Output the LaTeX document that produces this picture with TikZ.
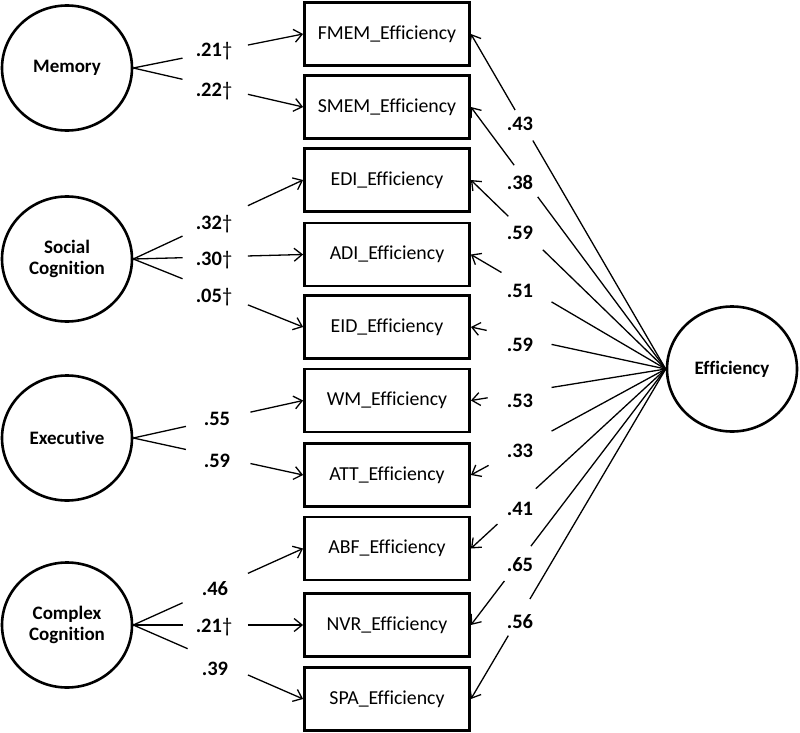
\documentclass[tikz,border=0pt]{standalone}
\usepackage{fontspec}
\setmainfont{Carlito}[Ligatures={NoCommon}]
\usetikzlibrary{shapes.geometric,calc,arrows.meta}
\newcommand\sdag{{\mdseries †}}
\newcommand\semlink[4]{%
  \draw[conn] (#1) -- ($(#1)!#3!(#2)$);
  \draw[conn,arr] ($(#1)!#4!(#2)$) -- (#2);}
\begin{document}
\begin{tikzpicture}[x=1pt,y=-1pt,
 lat/.style={draw,ellipse,line width=2.6pt,minimum width=130pt,minimum height=125pt,inner sep=0pt,align=center,font=\fontsize{19}{21.5}\selectfont\bfseries},
 obs/.style={draw,rectangle,line width=2.8pt,minimum width=165pt,minimum height=63pt,inner sep=0pt,font=\fontsize{19.8}{22}\selectfont},
 conn/.style={line width=1.3pt},
 arr/.style={-{Straight Barb[length=8pt,width=13pt]}},
 lbl/.style={font=\fontsize{20.5}{22}\selectfont\bfseries,inner sep=0pt,anchor=base}]
\useasboundingbox (0,0) rectangle (800,733);
% observed boxes
\node[obs] (fmem) at (387,34) {FMEM\_Efficiency};
\node[obs] (smem) at (387,107) {SMEM\_Efficiency};
\node[obs] (edi) at (387,180) {EDI\_Efficiency};
\node[obs] (adi) at (387,254.5) {ADI\_Efficiency};
\node[obs] (eid) at (387,327) {EID\_Efficiency};
\node[obs] (wm) at (387,400.5) {WM\_Efficiency};
\node[obs] (att) at (387,475) {ATT\_Efficiency};
\node[obs] (abf) at (387,548.5) {ABF\_Efficiency};
\node[obs] (nvr) at (387,625) {NVR\_Efficiency};
\node[obs] (spa) at (387,699) {SPA\_Efficiency};
% latent circles
\node[lat] (mem) at (67,68) {Memory};
\node[lat] (soc) at (67,259) {Social\\Cognition};
\node[lat] (exe) at (67,438) {Executive};
\node[lat] (cpx) at (67,625) {Complex\\Cognition};
\node[lat] (eff) at (732,369) {Efficiency};
% left links
\semlink{mem.east}{fmem.west}{0.29}{0.675}
\semlink{mem.east}{smem.west}{0.29}{0.675}
\semlink{soc.east}{edi.west}{0.29}{0.675}
\semlink{soc.east}{adi.west}{0.29}{0.675}
\semlink{soc.east}{eid.west}{0.29}{0.675}
\semlink{exe.east}{wm.west}{0.31}{0.69}
\semlink{exe.east}{att.west}{0.31}{0.69}
\semlink{cpx.east}{abf.west}{0.29}{0.675}
\semlink{cpx.east}{nvr.west}{0.29}{0.675}
\semlink{cpx.east}{spa.west}{0.32}{0.675}
% right links
\semlink{eff.west}{fmem.east}{0.682}{0.773}
\semlink{eff.west}{smem.east}{0.657}{0.778}
\semlink{eff.west}{edi.east}{0.631}{0.808}
\semlink{eff.west}{adi.east}{0.586}{0.843}
\semlink{eff.west}{eid.east}{0.586}{0.919}
\semlink{eff.west}{wm.east}{0.586}{0.914}
\semlink{eff.west}{att.east}{0.586}{0.909}
\semlink{eff.west}{abf.east}{0.667}{0.864}
\semlink{eff.west}{nvr.east}{0.692}{0.828}
\semlink{eff.west}{spa.east}{0.697}{0.808}
% left labels
\node[lbl] (l1) at (214,57) {.21\sdag};
\node[lbl] (l2) at (214,97) {.22\sdag};
\node[lbl] (l3) at (214,229) {.32\sdag};
\node[lbl] (l4) at (214,265) {.30\sdag};
\node[lbl] (l5) at (214,302) {.05\sdag};
\node[lbl] (l6) at (217,425) {.55};
\node[lbl] (l7) at (217,467) {.59};
\node[lbl] (l8) at (215,595) {.46};
\node[lbl] (l9) at (214,632) {.21\sdag};
\node[lbl] (l10) at (215,675) {.39};
% right labels
\node[lbl] (r1) at (520,131) {.43};
\node[lbl] (r2) at (520,189) {.38};
\node[lbl] (r3) at (520,239) {.59};
\node[lbl] (r4) at (520,297) {.51};
\node[lbl] (r5) at (520,351) {.59};
\node[lbl] (r6) at (520,407) {.53};
\node[lbl] (r7) at (520,457) {.33};
\node[lbl] (r8) at (520,515) {.41};
\node[lbl] (r9) at (520,571) {.65};
\node[lbl] (r10) at (520,628) {.56};
\end{tikzpicture}
\end{document}
